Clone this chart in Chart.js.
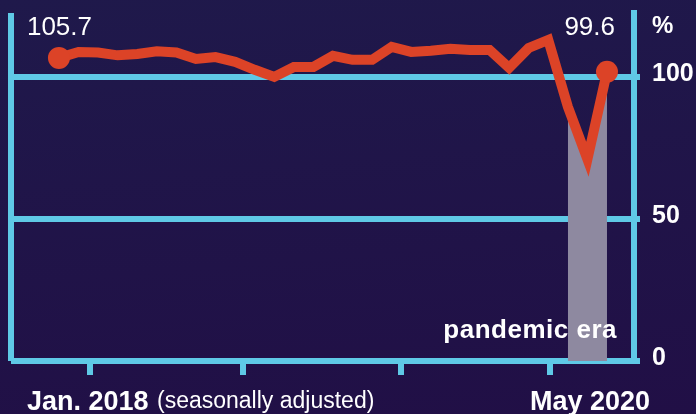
<!DOCTYPE html>
<html lang="en">
<head>
    <meta charset="UTF-8">
    <title>Index through the pandemic</title>
    <script src="https://cdn.jsdelivr.net/npm/chart.js"></script>
    <style>
        html, body {
            margin: 0;
            padding: 0;
        }
        body {
            width: 696px;
            height: 414px;
            overflow: hidden;
            background: linear-gradient(175deg, #1f194b 0%, #210f46 100%);
        }
        .chart-container {
            position: relative;
            width: 696px;
            height: 414px;
        }
    </style>
</head>
<body>

    <div class="chart-container">
        <canvas id="indexChart"></canvas>
    </div>

    <script>
        // monthly values, Jan. 2018 - May 2020
        const months = [
            'Jan. 2018', 'Feb. 2018', 'Mar. 2018', 'Apr. 2018', 'May 2018', 'Jun. 2018',
            'Jul. 2018', 'Aug. 2018', 'Sep. 2018', 'Oct. 2018', 'Nov. 2018', 'Dec. 2018',
            'Jan. 2019', 'Feb. 2019', 'Mar. 2019', 'Apr. 2019', 'May 2019', 'Jun. 2019',
            'Jul. 2019', 'Aug. 2019', 'Sep. 2019', 'Oct. 2019', 'Nov. 2019', 'Dec. 2019',
            'Jan. 2020', 'Feb. 2020', 'Mar. 2020', 'Apr. 2020', 'May 2020'
        ];
        const indexValues = [
            106.7, 108.8, 108.6, 107.6, 108.1, 109.0,
            108.6, 106.3, 107.0, 105.3, 102.5, 100.0,
            103.5, 103.5, 107.4, 106.0, 106.0, 110.6,
            108.8, 109.2, 109.9, 109.5, 109.5, 103.2,
            110.2, 113.0, 89.5, 71.0, 101.8
        ];
        const pandemicStart = 'Mar. 2020';
        const yTicks = [0, 50, 100];
        const xTickMonths = [1.6, 9.4, 17.5, 25.1];
        const startLabel = '105.7';
        const endLabel = '99.6';
        const firstLabel = 'Jan. 2018';
        const lastLabel = 'May 2020';
        const note = '(seasonally adjusted)';

        const CYAN = '#5fc9e6';
        const RED = '#dc4327';
        const GREY = '#8e89a0';
        const WHITE = '#ffffff';
        const FONT = "'Liberation Sans', Arial, sans-serif";

        Chart.defaults.font.family = FONT;

        const startIdx = months.indexOf(pandemicStart);
        const last = indexValues.length - 1;
        const linePoints = indexValues.map((v, i) => ({ x: i, y: v }));
        const pandemicPoints = indexValues.map((v, i) => ({ x: i, y: i >= startIdx ? v : null }));

        // left frame line
        const framePlugin = {
            id: 'frame',
            beforeDatasetsDraw(chart) {
                const { ctx, chartArea } = chart;
                ctx.save();
                ctx.strokeStyle = CYAN;
                ctx.lineWidth = 6;
                ctx.beginPath();
                ctx.moveTo(chartArea.left, chartArea.top);
                ctx.lineTo(chartArea.left, chartArea.bottom);
                ctx.stroke();
                ctx.restore();
            }
        };

        // annotations
        const textPlugin = {
            id: 'texts',
            afterDraw(chart) {
                const { ctx, chartArea } = chart;
                const xs = chart.scales.x;
                ctx.save();
                ctx.fillStyle = WHITE;
                ctx.textBaseline = 'alphabetic';

                ctx.font = '26px ' + FONT;
                ctx.textAlign = 'left';
                ctx.fillText(startLabel, xs.getPixelForValue(0) - 32, 35);
                ctx.textAlign = 'right';
                ctx.fillText(endLabel, xs.getPixelForValue(last) + 8, 35);

                ctx.font = 'bold 24px ' + FONT;
                ctx.textAlign = 'left';
                ctx.fillText('%', chartArea.right + 18, 33);

                ctx.font = 'bold 26px ' + FONT;
                ctx.letterSpacing = '0.5px';
                ctx.textAlign = 'right';
                ctx.fillText('pandemic era', xs.getPixelForValue(last) + 10, 338);
                ctx.letterSpacing = '0px';

                ctx.textAlign = 'left';
                ctx.font = 'bold 27px ' + FONT;
                ctx.fillText(firstLabel, 27, 410);
                ctx.fillText(lastLabel, 530, 410);
                ctx.font = '23px ' + FONT;
                ctx.fillText(note, 157, 408);
                ctx.restore();
            }
        };

        new Chart(document.getElementById('indexChart'), {
            type: 'line',
            data: {
                datasets: [
                    {
                        label: 'Index',
                        data: linePoints,
                        borderColor: RED,
                        borderWidth: 10,
                        borderJoinStyle: 'miter',
                        tension: 0,
                        pointRadius: indexValues.map((v, i) => (i === 0 || i === last) ? 11 : 0),
                        pointBackgroundColor: RED,
                        pointBorderWidth: 0,
                        fill: false
                    },
                    {
                        label: 'pandemic era',
                        data: pandemicPoints,
                        borderWidth: 0,
                        pointRadius: 0,
                        backgroundColor: GREY,
                        fill: 'origin'
                    }
                ]
            },
            options: {
                responsive: true,
                maintainAspectRatio: false,
                devicePixelRatio: 1,
                animation: false,
                layout: {
                    padding: { left: 11, top: 13, right: 0, bottom: 0 }
                },
                scales: {
                    x: {
                        type: 'linear',
                        min: -2.45,
                        max: 29.38,
                        border: { display: false },
                        grid: {
                            drawOnChartArea: false,
                            drawTicks: true,
                            tickLength: 14,
                            lineWidth: 6,
                            color: CYAN
                        },
                        ticks: { display: false },
                        afterBuildTicks: s => { s.ticks = xTickMonths.map(v => ({ value: v })); },
                        afterFit: s => {
                            s.height = 53;
                            s.paddingLeft = 0;
                            s.paddingRight = 0;
                        }
                    },
                    y: {
                        position: 'right',
                        min: 0,
                        max: 122.5,
                        border: { display: true, color: CYAN, width: 6 },
                        grid: {
                            color: CYAN,
                            lineWidth: 6,
                            tickLength: 6,
                            drawTicks: true
                        },
                        ticks: {
                            color: WHITE,
                            font: { size: 25, weight: 'bold' },
                            padding: 12,
                            labelOffset: -3
                        },
                        afterBuildTicks: s => { s.ticks = yTicks.map(v => ({ value: v })); },
                        afterFit: s => {
                            s.width = 62;
                            s.paddingTop = 0;
                            s.paddingBottom = 0;
                        }
                    }
                },
                plugins: {
                    legend: { display: false },
                    tooltip: { enabled: false }
                }
            },
            plugins: [framePlugin, textPlugin]
        });
    </script>

</body>
</html>
